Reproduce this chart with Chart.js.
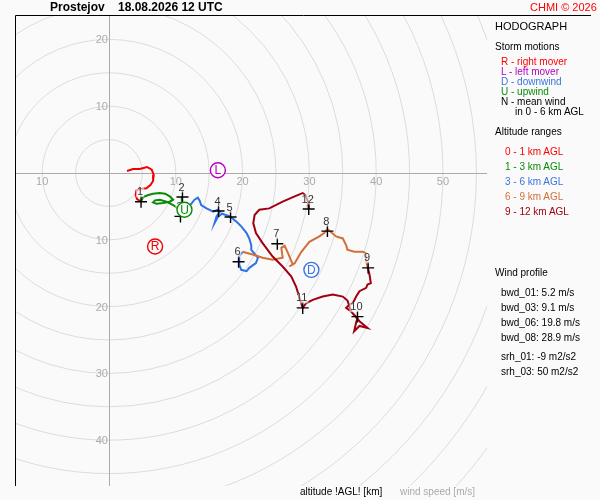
<!DOCTYPE html>
<html>
<head>
<meta charset="utf-8">
<title>Hodograph Prostejov</title>
<script src="https://cdn.jsdelivr.net/npm/chart.js@4.4.0/dist/chart.umd.min.js"></script>
<style>
  body { margin: 0; background: #fafafa; }
  #wrap { position: relative; width: 600px; height: 500px; font-family: 'Liberation Sans', Arial, sans-serif; }
  #hodo { position: absolute; left: 0; top: 0; }
  .t { position: absolute; white-space: nowrap; line-height: 1; font-size: 10px; color: #000; }
</style>
</head>
<body>
<div id="wrap">
  <canvas id="hodo" width="600" height="500"></canvas>

  <div class="t" style="left:50px;top:1px;font-size:12px;font-weight:bold">Prostejov</div>
  <div class="t" style="left:118px;top:1px;font-size:12px;font-weight:bold">18.08.2026 12 UTC</div>
  <div class="t" style="left:530px;top:2px;font-size:11px;color:#f00">CHMI © 2026</div>

  <div class="t" style="left:495px;top:21px;font-size:11px">HODOGRAPH</div>
  <div class="t" style="left:495px;top:42px">Storm motions</div>
  <div class="t" style="left:501px;top:57px;color:#f00">R - right mover</div>
  <div class="t" style="left:501px;top:67px;color:#b400c0">L - left mover</div>
  <div class="t" style="left:501px;top:77px;color:#3a74e0">D - downwind</div>
  <div class="t" style="left:501px;top:87px;color:#0a8a0a">U - upwind</div>
  <div class="t" style="left:501px;top:97px">N - mean wind</div>
  <div class="t" style="left:515px;top:107px">in 0 - 6 km AGL</div>

  <div class="t" style="left:495px;top:127px">Altitude ranges</div>
  <div class="t" style="left:505px;top:147px;color:#f00">0 - 1 km AGL</div>
  <div class="t" style="left:505px;top:162px;color:#0a8a0a">1 - 3 km AGL</div>
  <div class="t" style="left:505px;top:177px;color:#3a74e0">3 - 6 km AGL</div>
  <div class="t" style="left:505px;top:192px;color:#d27038">6 - 9 km AGL</div>
  <div class="t" style="left:505px;top:207px;color:#a00010">9 - 12 km AGL</div>

  <div class="t" style="left:495px;top:268px">Wind profile</div>
  <div class="t" style="left:501px;top:288px">bwd_01: 5.2 m/s</div>
  <div class="t" style="left:501px;top:303px">bwd_03: 9.1 m/s</div>
  <div class="t" style="left:501px;top:318px">bwd_06: 19.8 m/s</div>
  <div class="t" style="left:501px;top:333px">bwd_08: 28.9 m/s</div>
  <div class="t" style="left:501px;top:352px">srh_01: -9 m2/s2</div>
  <div class="t" style="left:501px;top:367px">srh_03: 50 m2/s2</div>

  <div class="t" style="left:300px;top:487px">altitude !AGL! [km]</div>
  <div class="t" style="left:400px;top:487px;color:#aaa">wind speed [m/s]</div>
</div>

<script>
// hodograf - data [u, v] v m/s

// 0 - 1 km
const layer01 = [[2.7,0.3],[3.6,0.6],[4.6,0.6],[5.7,0.9],[6.4,0.5],[6.7,-0.3],[6.6,-1.2],[6.2,-1.8],
    [5.6,-2.3],[4.6,-2.4],[4.1,-2.6],[4.0,-3.3],[4.2,-3.9],[4.8,-4.3]];

// 1 - 3 km
const layer13 = [[4.8,-4.3],[5.1,-3.6],[5.9,-3.3],[6.6,-3.1],[7.6,-3.0],[8.4,-3.1],[9.1,-3.5],[9.6,-4.0],
    [9.1,-4.3],[8.1,-4.5],[7.1,-4.6],[6.6,-4.4],[6.9,-4.1],[7.6,-4.0],[8.6,-4.3],[9.6,-4.8],[10.3,-5.3],
    [10.9,-5.4],[10.9,-4.5],[10.9,-3.5],[11.0,-5.0],[11.0,-5.8],[10.8,-6.4]];

// 3 - 6 km
const layer36 = [[10.8,-6.4],[12.1,-4.9],[12.8,-4.0],[13.3,-3.7],[13.6,-4.2],[13.8,-4.8],[14.6,-5.3],
    [15.6,-5.8],[16.3,-5.5],[16.6,-5.8],[16.1,-6.5],[15.8,-7.5],[16.3,-6.6],[16.9,-6.1],[18.1,-6.5],
    [19.1,-7.3],[19.8,-8.0],[20.6,-9.0],[21.0,-9.8],[21.3,-10.8],[21.3,-11.5],[22.3,-12.7],[22.0,-13.5],
    [21.0,-14.2],[20.6,-14.7],[19.8,-14.5],[19.5,-13.7],[19.5,-12.5],[20.0,-11.8]];

// 6 - 9 km
const layer69 = [[20.0,-11.8],[21.5,-12.2],[23.0,-12.7],[24.5,-13.0],[26.0,-12.7],[25.8,-11.2],[26.3,-10.9],
    [26.8,-12.0],[27.3,-13.2],[27.5,-13.7],[27.0,-14.0],[27.8,-13.5],[28.8,-11.8],[30.0,-10.3],[31.5,-9.5],
    [32.2,-9.0],[32.7,-8.4],[34.0,-9.5],[35.0,-9.8],[35.5,-10.8],[35.7,-11.5],[36.7,-11.8],[38.0,-11.8],
    [38.4,-12.0],[38.5,-13.2],[38.7,-14.0]];

// 9 - 12 km
const layer912 = [[38.7,-14.0],[39.0,-15.2],[39.2,-16.5],[38.7,-16.7],[38.5,-17.2],[37.5,-17.7],[37.0,-18.5],
    [36.5,-19.5],[36.0,-19.7],[35.5,-20.2],[36.2,-20.7],[36.7,-21.2],[37.2,-21.7],[37.0,-22.4],[36.7,-23.7],
    [37.5,-22.9],[38.7,-23.2],[37.5,-22.2],[36.3,-20.8],[35.7,-19.1],[35.0,-18.5],[33.5,-18.2],[32.0,-18.5],
    [30.5,-19.0],[29.5,-19.5],[29.0,-20.2],[28.0,-17.0],[27.3,-15.5],[26.0,-14.0],[24.5,-12.5],[23.0,-10.5],
    [22.0,-9.0],[21.6,-7.5],[21.8,-6.3],[22.5,-5.5],[24.0,-5.3],[26.0,-4.3],[27.8,-3.5],[29.0,-3.0],
    [29.4,-3.3],[29.8,-4.3],[29.9,-5.4]];

// vyskove znacky (km)
const kmLabels = ['1','2','3','4','5','6','7','8','9','10','11','12'];
const kmU = [4.8, 11.0, 10.7, 16.4, 18.2, 19.4, 25.2, 32.7, 38.8, 37.2, 29.0, 29.9];
const kmV = [-4.3, -3.6, -6.5, -5.7, -6.6, -13.3, -10.6, -8.7, -14.2, -21.5, -20.2, -5.4];

// pohyby bouri
const stormLetters = ['R', 'L', 'D', 'U'];
const stormU = [6.9, 16.3, 30.3, 11.3];
const stormV = [-11.0, 0.4, -14.5, -5.5];

// osy
const ringSpeeds = [5,10,15,20,25,30,35,40,45,50,55,60,65,70,75];
const xTickLabels = [-10, 10, 20, 30, 40, 50];
const yTickLabels = [20, 10, -10, -20, -30, -40];

const layerColors = ['#f00000', '#0a8a0a', '#2f72e6', '#d27038', '#a00010'];
const stormColors = ['#f00000', '#b400c0', '#3a74e0', '#0a8a0a'];

const toPts = arr => arr.map(p => ({ x: p[0], y: p[1] }));
const MARKERS = 1;

const hodoPlugin = {
    id: 'hodo',
    beforeDatasetsDraw(chart) {
        const { ctx, chartArea: a, scales: { x, y } } = chart;
        const x0 = x.getPixelForValue(0), y0 = y.getPixelForValue(0);
        ctx.save();
        ctx.beginPath();
        ctx.rect(a.left, a.top, a.right - a.left, a.bottom - a.top);
        ctx.clip();
        // kruznice rychlosti
        ctx.strokeStyle = '#dcdcdc';
        ctx.lineWidth = 1;
        ringSpeeds.forEach(s => {
            const r = x.getPixelForValue(s) - x0;
            ctx.beginPath();
            ctx.arc(x0, y0, r, 0, Math.PI * 2);
            ctx.stroke();
        });
        // osy
        ctx.strokeStyle = '#aaaaaa';
        ctx.beginPath();
        ctx.moveTo(a.left, Math.round(y0) + 0.5);
        ctx.lineTo(a.right, Math.round(y0) + 0.5);
        ctx.moveTo(Math.round(x0) + 0.5, a.top);
        ctx.lineTo(Math.round(x0) + 0.5, a.bottom);
        ctx.stroke();
        // popisky
        ctx.fillStyle = '#aaaaaa';
        ctx.font = '11px "Liberation Sans", Arial, sans-serif';
        ctx.textBaseline = 'middle';
        ctx.textAlign = 'center';
        xTickLabels.forEach(v => ctx.fillText(String(Math.abs(v)), x.getPixelForValue(v), y0 + 9));
        ctx.textAlign = 'right';
        yTickLabels.forEach(v => ctx.fillText(String(Math.abs(v)), x0 - 1, y.getPixelForValue(v) + 1));
        ctx.restore();
    },
    afterDatasetDraw(chart, args) {
        if (args.index !== MARKERS) return;
        const { ctx, scales: { x, y } } = chart;
        ctx.save();
        ctx.font = '11px "Liberation Sans", Arial, sans-serif';
        ctx.textAlign = 'center';
        ctx.textBaseline = 'middle';
        kmLabels.forEach((t, i) => {
            const px = x.getPixelForValue(kmU[i]) - 1;
            const py = y.getPixelForValue(kmV[i]) - 9.5;
            const w = ctx.measureText(t).width + 2;
            ctx.fillStyle = 'rgba(250,250,250,0.6)';
            ctx.fillRect(px - w / 2, py - 5, w, 10);
            ctx.fillStyle = '#333';
            ctx.fillText(t, px, py);
        });
        ctx.restore();
    },
    afterDatasetsDraw(chart) {
        const { ctx, chartArea: a, scales: { x, y } } = chart;
        ctx.save();
        ctx.font = '12px "Liberation Sans", Arial, sans-serif';
        ctx.textAlign = 'center';
        ctx.textBaseline = 'middle';
        stormLetters.forEach((t, i) => {
            ctx.fillStyle = stormColors[i];
            ctx.fillText(t, x.getPixelForValue(stormU[i]), y.getPixelForValue(stormV[i]) + 0.5);
        });
        // ramecek
        ctx.strokeStyle = '#000';
        ctx.lineWidth = 1;
        ctx.beginPath();
        ctx.moveTo(a.left - 0.5, a.bottom);
        ctx.lineTo(a.left - 0.5, a.top - 0.5);
        ctx.lineTo(591, a.top - 0.5);
        ctx.stroke();
        ctx.restore();
    }
};

const traceSet = (arr, i) => ({
    data: toPts(arr),
    showLine: true,
    borderColor: layerColors[i],
    borderWidth: 2,
    pointRadius: 0,
    tension: 0,
    order: 2
});

new Chart(document.getElementById('hodo'), {
    type: 'scatter',
    data: {
        datasets: [
            {
                data: stormU.map((u, i) => ({ x: u, y: stormV[i] })),
                pointStyle: 'circle',
                pointRadius: 7.5,
                backgroundColor: '#fafafa',
                borderColor: stormColors,
                borderWidth: 1.4,
                order: 0
            },
            {
                data: kmU.map((u, i) => ({ x: u, y: kmV[i] })),
                pointStyle: 'cross',
                pointRadius: 6,
                borderColor: '#000',
                borderWidth: 1.4,
                order: 1
            },
            traceSet(layer912, 4),
            traceSet(layer69, 3),
            traceSet(layer36, 2),
            traceSet(layer13, 1),
            traceSet(layer01, 0)
        ]
    },
    options: {
        responsive: false,
        animation: false,
        events: [],
        layout: {
            padding: { left: 16, top: 16, right: 113, bottom: 14 }
        },
        plugins: {
            legend: { display: false },
            tooltip: { enabled: false }
        },
        scales: {
            x: { type: 'linear', min: -13.92, max: 56.59, display: false },
            y: { type: 'linear', min: -46.86, max: 23.50, display: false }
        }
    },
    plugins: [hodoPlugin]
});
</script>
</body>
</html>
